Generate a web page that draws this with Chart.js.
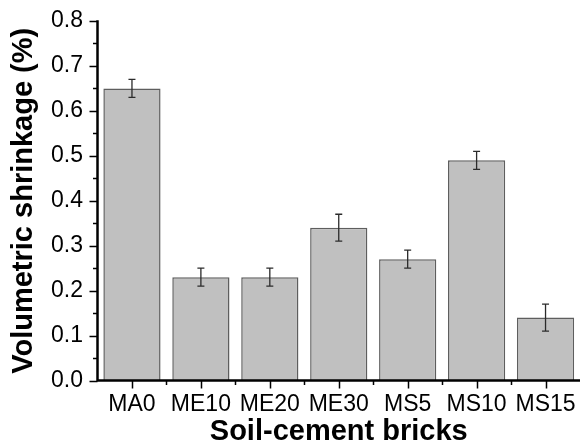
<!DOCTYPE html>
<html>
<head>
<meta charset="utf-8">
<script src="https://cdn.jsdelivr.net/npm/chart.js@4/dist/chart.umd.min.js"></script>
<style>
  body { margin: 0; background: #fff; }
  canvas { display: block; }
</style>
</head>
<body>
<canvas id="myChart" width="580" height="444"></canvas>
<script>
'use strict'
var bricks = ['MA0', 'ME10', 'ME20', 'ME30', 'MS5', 'MS10', 'MS15'];
var shrinkage = [0.65, 0.23, 0.23, 0.34, 0.27, 0.49, 0.14];
var shrinkageErr = [0.02, 0.02, 0.02, 0.03, 0.02, 0.02, 0.03];
var yMin = 0;
var yMax = 0.8;
var yStep = 0.1;

var fontFamily = "'Liberation Sans', Arial, Helvetica, sans-serif";

// error bars on top of each bar
var errorBars = {
    id: 'errorBars',
    afterDatasetsDraw: function(chart) {
        var ctx = chart.ctx;
        var x = chart.scales.x;
        var y = chart.scales.y;
        ctx.save();
        ctx.strokeStyle = '#2b2b2b';
        ctx.lineWidth = 1.3;
        for (let i = 0; i < shrinkage.length; i++) {
            var px = x.getPixelForValue(i);
            var top = y.getPixelForValue(shrinkage[i] + shrinkageErr[i]);
            var bot = y.getPixelForValue(shrinkage[i] - shrinkageErr[i]);
            ctx.beginPath();
            ctx.moveTo(px, top);
            ctx.lineTo(px, bot);
            ctx.moveTo(px - 3.5, top);
            ctx.lineTo(px + 3.5, top);
            ctx.moveTo(px - 3.5, bot);
            ctx.lineTo(px + 3.5, bot);
            ctx.stroke();
        }
        ctx.restore();
    }
};

// thick left / bottom axes with outward ticks
var axesLines = {
    id: 'axesLines',
    afterDatasetsDraw: function(chart) {
        var ctx = chart.ctx;
        var x = chart.scales.x;
        var y = chart.scales.y;
        var area = chart.chartArea;
        ctx.save();
        ctx.strokeStyle = '#000';
        ctx.lineCap = 'butt';

        ctx.lineWidth = 1.5;
        ctx.beginPath();
        for (let v = yMin; v <= yMax + 1e-9; v += yStep / 2) {
            var py = Math.round(y.getPixelForValue(v)) + 0.5;
            var major = Math.abs(v / yStep - Math.round(v / yStep)) < 1e-6;
            ctx.moveTo(area.left, py);
            ctx.lineTo(area.left - (major ? 8 : 4.5), py);
        }
        for (let i = 0; i < bricks.length; i++) {
            var px = Math.round(x.getPixelForValue(i)) + 0.5;
            ctx.moveTo(px, area.bottom);
            ctx.lineTo(px, area.bottom + 8);
            if (i > 0) {
                var pm = Math.round(x.getPixelForValue(i - 0.5)) + 0.5;
                ctx.moveTo(pm, area.bottom);
                ctx.lineTo(pm, area.bottom + 4.5);
            }
        }
        ctx.stroke();

        ctx.lineWidth = 2.5;
        ctx.beginPath();
        ctx.moveTo(area.left, area.top - 0.75);
        ctx.lineTo(area.left, area.bottom);
        ctx.lineTo(area.right, area.bottom);
        ctx.stroke();
        ctx.restore();
    }
};

var ctx = document.getElementById('myChart').getContext('2d');

var chart = new Chart(ctx, {
    type: 'bar',
    data: {
        labels: bricks,
        datasets: [{
            label: 'Volumetric shrinkage',
            data: shrinkage,
            backgroundColor: '#c0c0c0',
            borderColor: '#5e5e5e',
            borderWidth: { top: 1.5, left: 1.5, right: 1.5, bottom: 0 },
            borderSkipped: false,
            categoryPercentage: 1,
            barPercentage: 0.83
        }]
    },
    options: {
        responsive: false,
        animation: false,
        layout: { padding: { top: 21, right: 0, bottom: 0, left: 0 } },
        plugins: {
            legend: { display: false },
            tooltip: { enabled: false }
        },
        scales: {
            x: {
                grid: { display: false, drawTicks: false },
                border: { display: false },
                ticks: {
                    color: '#000',
                    padding: 10,
                    maxRotation: 0,
                    autoSkip: false,
                    font: { family: fontFamily, size: 23 }
                },
                title: {
                    display: true,
                    text: 'Soil-cement bricks',
                    color: '#000',
                    padding: 0,
                    font: { family: fontFamily, size: 29, weight: 'bold', lineHeight: 0.85 }
                },
                afterFit: function(scale) {
                    scale.height = 63.5;
                    scale.paddingLeft = 0;
                    scale.paddingRight = 0;
                }
            },
            y: {
                min: yMin,
                max: yMax,
                grid: { display: false, drawTicks: false },
                border: { display: false },
                ticks: {
                    stepSize: yStep,
                    color: '#000',
                    padding: 14.5,
                    font: { family: fontFamily, size: 23 },
                    callback: function(v) { return v.toFixed(1); }
                },
                title: {
                    display: true,
                    text: 'Volumetric shrinkage (%)',
                    color: '#000',
                    padding: { top: 11, bottom: 0 },
                    font: { family: fontFamily, size: 29, weight: 'bold', lineHeight: 0.9 }
                },
                afterFit: function(scale) {
                    scale.width = 97.5;
                    scale.paddingTop = 0;
                    scale.paddingBottom = 0;
                }
            }
        }
    },
    plugins: [errorBars, axesLines]
});
</script>
</body>
</html>
